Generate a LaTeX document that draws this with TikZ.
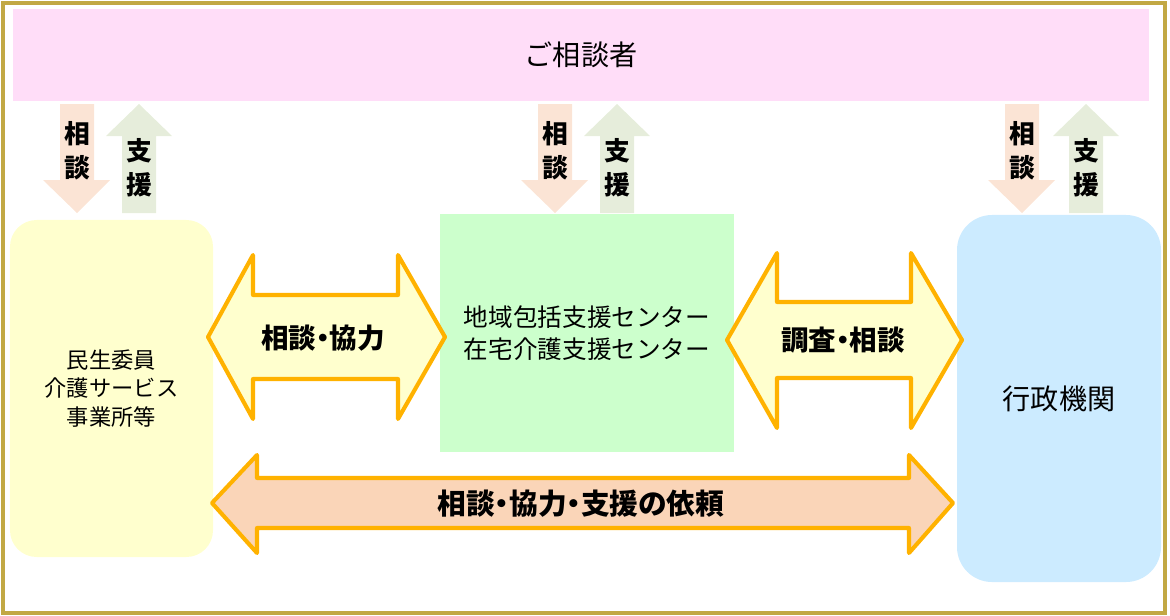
\documentclass[tikz,border=0pt]{standalone}
\usepackage{fontspec}
\setmainfont{Noto Sans CJK JP}

\definecolor{framegold}{RGB}{194,168,68}
\definecolor{soudanpink}{RGB}{255,221,248}
\definecolor{downpeach}{RGB}{251,228,213}
\definecolor{upgreen}{RGB}{230,237,219}
\definecolor{boxyellow}{RGB}{255,255,206}
\definecolor{boxgreen}{RGB}{204,255,204}
\definecolor{boxblue}{RGB}{204,235,255}
\definecolor{arroworange}{RGB}{255,178,0}
\definecolor{arrowyellow}{RGB}{255,255,206}
\definecolor{arrowpeach}{RGB}{250,213,184}

\begin{document}
\begin{tikzpicture}[x=.03cm,y=-.03cm,line width=.35pt,
  box/.style={inner sep=0pt,align=center},
  smalltext/.style={align=center,inner sep=0pt,font=\fontsize{22}{29}\selectfont\bfseries},
  arrowtext/.style={inner sep=0pt,font=\fontsize{23.5}{26}\selectfont\bfseries\addfontfeature{RawFeature=+palt}},
  blockarrow/.style={draw=arroworange,line width=3.5pt,line join=round}]
\useasboundingbox (0,0) rectangle (1170,616);
\draw[framegold,line width=3pt] (3,3) rectangle (1165,613);
% boxes
\node[box,fill=soudanpink,minimum width=34.08cm,minimum height=2.76cm,font=\fontsize{24}{28}\selectfont] (soudansha) at (581,55) {ご相談者};
\node[box,fill=boxyellow,rounded corners=.8cm,minimum width=6.09cm,minimum height=10.11cm,font=\fontsize{19}{24}\selectfont] (minsei) at (111.5,388.5) {民生委員\\介護サービス\\事業所等};
\node[box,fill=boxgreen,minimum width=8.82cm,minimum height=7.14cm,font=\fontsize{21}{27}\selectfont] (houkatsu) at (587,333) {地域包括支援センター\\在宅介護支援センター};
\node[box,fill=boxblue,rounded corners=1.05cm,minimum width=6.12cm,minimum height=11.01cm,font=\fontsize{24}{28}\selectfont] (gyousei) at (1059,398.5) {行政機関};
% small arrows
\fill[downpeach] (60,104)--(94,104)--(94,180)--(110,180)--(77,213)--(43,180)--(60,180)--cycle;
\fill[upgreen] (122,213)--(156,213)--(156,136)--(172,136)--(139,104)--(106,136)--(122,136)--cycle;
\node[smalltext] (soudanA) at (77,151) {相\\談};
\node[smalltext] (shienA) at (139,168) {支\\援};
\fill[downpeach] (538,104)--(572,104)--(572,180)--(588,180)--(555,213)--(521,180)--(538,180)--cycle;
\fill[upgreen] (600,213)--(634,213)--(634,136)--(650,136)--(617,104)--(584,136)--(600,136)--cycle;
\node[smalltext] (soudanB) at (555,151) {相\\談};
\node[smalltext] (shienB) at (617,168) {支\\援};
\fill[downpeach] (1005,104)--(1039,104)--(1039,180)--(1055,180)--(1022,213)--(988,180)--(1005,180)--cycle;
\fill[upgreen] (1069,213)--(1103,213)--(1103,136)--(1119,136)--(1086,104)--(1053,136)--(1069,136)--cycle;
\node[smalltext] (soudanC) at (1022,151) {相\\談};
\node[smalltext] (shienC) at (1086,168) {支\\援};
% block arrows
\filldraw[blockarrow,fill=arrowyellow] (208,337)--(253,255)--(253,295)--(398,295)--(398,255)--(445,337)--(398,419)--(398,379)--(253,379)--(253,419)--cycle;
\node[arrowtext] (kyouryoku) at (323,338) {相談・協力};
\filldraw[blockarrow,fill=arrowyellow] (727,340)--(777,253)--(777,302)--(911,302)--(911,253)--(962,340)--(911,428)--(911,378)--(777,378)--(777,428)--cycle;
\node[arrowtext] (chousa) at (843,340) {調査・相談};
\filldraw[blockarrow,fill=arrowpeach] (212,503)--(257,455)--(257,478)--(909,478)--(909,455)--(953,503)--(909,553)--(909,528)--(257,528)--(257,553)--cycle;
\node[arrowtext,font=\fontsize{24.5}{26}\selectfont\bfseries\addfontfeature{RawFeature=+palt}] (irai) at (581,504) {相談・協力・支援の依頼};
\end{tikzpicture}
\end{document}
